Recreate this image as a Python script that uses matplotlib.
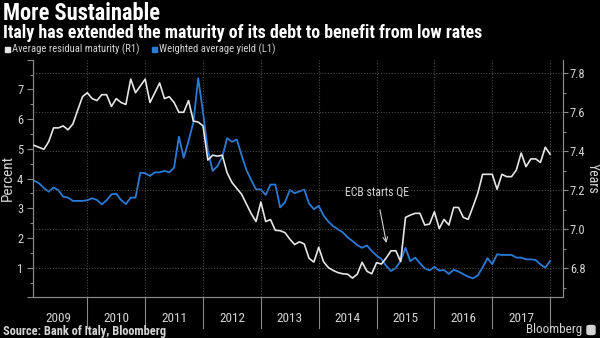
import matplotlib
matplotlib.use("Agg")
import matplotlib.pyplot as plt
import matplotlib.transforms as mtransforms
from matplotlib import font_manager
from matplotlib.patches import Rectangle, FancyBboxPatch
from matplotlib.ticker import MultipleLocator, NullFormatter

# prefer a narrow sans face when one is installed
_installed = {f.name for f in font_manager.fontManager.ttflist}
_candidates = ['Liberation Sans Narrow', 'DejaVu Sans Condensed',
               'Roboto Condensed', 'Open Sans Condensed', 'Roboto']
_family = [f for f in _candidates if f in _installed][:1] + ['DejaVu Sans']
plt.rcParams['font.family'] = _family

# Monthly observations, Jan 2009 - Dec 2017
start_year = 2009
years = [2009, 2010, 2011, 2012, 2013, 2014, 2015, 2016, 2017]

# Average residual maturity, years (right axis)
maturity_years = [
    7.43, 7.42, 7.41, 7.45, 7.52, 7.52, 7.53, 7.51, 7.54, 7.61, 7.68, 7.70,
    7.67, 7.66, 7.69, 7.69, 7.63, 7.67, 7.65, 7.64, 7.77, 7.70, 7.735, 7.77,
    7.65, 7.70, 7.75, 7.67, 7.68, 7.65, 7.60, 7.60, 7.66, 7.555, 7.55, 7.53,
    7.355, 7.38, 7.375, 7.38, 7.29, 7.24, 7.21, 7.18, 7.13, 7.08, 7.04, 7.14,
    7.04, 7.05, 6.995, 6.993, 6.983, 6.95, 6.922, 6.936, 6.925, 6.851, 6.832, 6.908,
    6.834, 6.804, 6.789, 6.778, 6.772, 6.770, 6.750, 6.770, 6.831, 6.785, 6.772, 6.829,
    6.822, 6.853, 6.890, 6.890, 6.835, 7.061, 7.073, 7.082, 7.082, 7.022, 7.027, 7.090,
    7.004, 7.051, 7.022, 7.112, 7.112, 7.061, 7.051, 7.116, 7.185, 7.282, 7.282, 7.282,
    7.205, 7.282, 7.270, 7.270, 7.304, 7.391, 7.321, 7.361, 7.361, 7.343, 7.421, 7.385,
]

# Weighted average yield, percent (left axis)
avg_yield_pct = [
    3.93, 3.84, 3.68, 3.56, 3.70, 3.61, 3.39, 3.36, 3.25, 3.25, 3.25, 3.27,
    3.34, 3.28, 3.13, 3.27, 3.47, 3.49, 3.28, 3.14, 3.36, 3.36, 4.20, 4.18,
    4.09, 4.21, 4.21, 4.26, 4.21, 4.37, 5.41, 4.70, 5.27, 5.89, 7.38, 6.23,
    4.96, 4.26, 4.42, 4.73, 5.36, 5.24, 5.32, 4.79, 4.29, 3.95, 3.64, 3.63,
    3.45, 3.80, 3.80, 3.03, 3.20, 3.62, 3.51, 3.57, 3.63, 3.16, 2.97, 3.08,
    2.76, 2.55, 2.40, 2.29, 2.19, 2.02, 1.90, 1.76, 1.67, 1.75, 1.56, 1.41,
    1.29, 1.06, 0.89, 0.99, 1.23, 1.67, 1.22, 1.34, 1.15, 0.98, 0.91, 1.03,
    0.90, 0.92, 0.79, 0.93, 0.87, 0.78, 0.70, 0.64, 0.74, 1.01, 1.32, 1.12,
    1.45, 1.43, 1.43, 1.43, 1.34, 1.34, 1.28, 1.28, 1.26, 1.11, 1.00, 1.23,
]

left_ticks = [1, 2, 3, 4, 5, 6, 7]
right_ticks = [6.8, 7.0, 7.2, 7.4, 7.6, 7.8]

BG = "#000000"
WHITE_LINE = "#e6e6e6"
BLUE_LINE = "#2b7bd6"
TEXT = "#d4d4d4"
AXIS = "#8a8a8a"
GRID = "#4a4a4a"

# month-end positions on a fractional-year axis
x = [start_year + (i + 1) / 12 for i in range(len(avg_yield_pct))]

fig = plt.figure(figsize=(6.0, 3.38), dpi=100, facecolor=BG)
W, H = 600, 338
ax = fig.add_axes([33 / W, 1 - 297.4 / H, 530 / W, 237.6 / H])
ax2 = ax.twinx()
ax.set_facecolor(BG)
ax2.set_facecolor("none")

ax.set_xlim(2009.061, 2018.223)
ax.set_ylim(0, 8)
ax2.set_ylim(6.651, 7.869)

# gridlines: horizontal at right-axis ticks, vertical at year boundaries
for v in right_ticks:
    ax2.axhline(v, color=GRID, lw=0.8, ls=(0, (1, 1.5)), zorder=0)
for yr in range(2010, 2019):
    ax.axvline(yr, color=GRID, lw=0.8, ls=(0, (1, 1.5)), zorder=0)

ax.plot(x, avg_yield_pct, color=BLUE_LINE, lw=1.3, zorder=3)
ax2.plot(x, maturity_years, color=WHITE_LINE, lw=1.2, zorder=3)

for a in (ax, ax2):
    a.spines['top'].set_visible(False)
    for s in ('left', 'right', 'bottom'):
        a.spines[s].set_color(AXIS)
        a.spines[s].set_linewidth(0.8)
    a.tick_params(colors=TEXT, labelsize=9, length=4, width=0.8, color=AXIS)
    a.tick_params(which='minor', length=2.5, width=0.8, color=AXIS)

ax.set_xticks([])
ax.set_yticks(list(range(0, 9)))
ax.set_yticklabels([str(t) if t in left_ticks else "" for t in range(0, 9)])
ax.yaxis.set_minor_locator(MultipleLocator(0.5))
ax.yaxis.set_minor_formatter(NullFormatter())
ax.tick_params(axis='y', pad=3)

ax2.set_yticks(right_ticks)
ax2.set_yticklabels([f"{t:.1f}" for t in right_ticks])
ax2.yaxis.set_minor_locator(MultipleLocator(0.1))
ax2.yaxis.set_minor_formatter(NullFormatter())
ax2.tick_params(axis='y', which='major', length=3.5, pad=1.5)

ax.set_ylabel("Percent", color=TEXT, fontsize=11, va='center')
ax.yaxis.set_label_coords((8 - 33) / 530, (297.4 - 178) / 237.6)
ax2.set_ylabel("Years", color=TEXT, fontsize=10, rotation=270, va='center')
ax2.yaxis.set_label_coords((593 - 33) / 530, (297.4 - 178) / 237.6)

# year separators and labels under the plot
trans = mtransforms.blended_transform_factory(ax.transData, ax.transAxes)
for yr in range(2010, 2019):
    ax.plot([yr, yr], [0, -0.13], transform=trans, color=AXIS, lw=0.8,
            clip_on=False)
for yr in years:
    ax.text(yr + 0.5, -0.088, str(yr), transform=trans, color=TEXT,
            fontsize=9.5, ha='center', va='center')

# annotation
ax2.annotate("ECB starts QE", xy=(2015.17, 6.93), xytext=(2015.0, 7.19),
             color=TEXT, fontsize=8.5, ha='center', va='center',
             arrowprops=dict(arrowstyle='->', color=TEXT, lw=0.8,
                             shrinkA=6, shrinkB=0))

# header text
title = fig.text(3 / W, 1 - 13 / H, "More Sustainable", color="white",
                 fontsize=14, fontweight='bold', ha='left', va='center')
subtitle = fig.text(3 / W, 1 - 33 / H,
                    "Italy has extended the maturity of its debt to benefit from low rates",
                    color="white", fontsize=10.5, fontweight='bold',
                    ha='left', va='center')

# legend row
fig.patches.append(Rectangle((5 / W, 1 - 51.5 / H), 5 / W, 5 / H,
                             transform=fig.transFigure, color=WHITE_LINE))
leg1 = fig.text(12 / W, 1 - 49 / H, "Average residual maturity (R1)",
                color=TEXT, fontsize=7, ha='left', va='center')
fig.patches.append(Rectangle((152 / W, 1 - 51.5 / H), 5 / W, 5 / H,
                             transform=fig.transFigure, color=BLUE_LINE))
leg2 = fig.text(159 / W, 1 - 49 / H, "Weighted average yield (L1)",
                color=TEXT, fontsize=7, ha='left', va='center')

# footer
source = fig.text(3 / W, 1 - 331 / H, "Source: Bank of Italy, Bloomberg",
                  color=TEXT, fontsize=7.5, fontweight='bold',
                  ha='left', va='center')
brand = fig.text(582 / W, 1 - 330 / H, "Bloomberg", color=TEXT, fontsize=9,
                 ha='right', va='center')
fig.patches.append(FancyBboxPatch((587 / W, 1 - 334.5 / H), 8 / W, 9 / H,
                                  boxstyle="round,pad=0,rounding_size=0.004",
                                  transform=fig.transFigure, color=TEXT))

# size header/footer strings to their measured widths in pixels
renderer = fig.canvas.get_renderer()
for txt, width_px in [(title, 159), (subtitle, 479), (leg1, 128),
                      (leg2, 117), (source, 162), (brand, 56)]:
    w = txt.get_window_extent(renderer).width
    txt.set_fontsize(txt.get_fontsize() * width_px / w)

fig.savefig("out.png", dpi=100, facecolor=BG)
